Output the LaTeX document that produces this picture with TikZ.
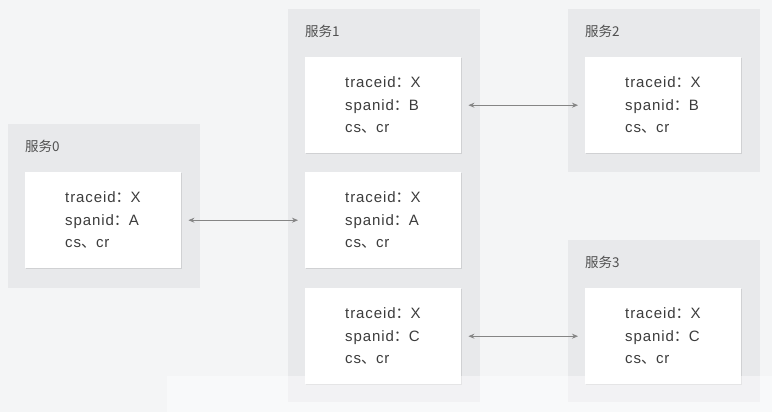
\documentclass[tikz,border=0pt]{standalone}
\usepackage{fontspec}
\setmainfont{Liberation Sans}[LetterSpace=6]
\newfontfamily\cjk{Noto Sans CJK SC}
\usetikzlibrary{arrows.meta,shadows}
\definecolor{bgc}{HTML}{F4F5F6}
\definecolor{panelc}{HTML}{E8E9EB}
\definecolor{txtc}{HTML}{3C3C3C}
\definecolor{lblc}{HTML}{505050}
\definecolor{arrc}{HTML}{858585}
\newcommand{\fc}{{\cjk ：}}
\newcommand{\dn}{{\cjk 、}}
\tikzset{
  panel/.style={fill=panelc, draw=none, inner sep=0pt, anchor=north west},
  card/.style={fill=white, draw=none, anchor=north west, minimum width=156pt, minimum height=96pt,
    text width=76pt, inner xsep=40pt, inner ysep=0pt, align=left, text=txtc,
    font=\fontsize{15pt}{22.5pt}\selectfont,
    drop shadow={shadow xshift=1pt, shadow yshift=-1.2pt, opacity=0.25, fill=black!45}},
  plabel/.style={anchor=west, inner sep=0pt, text=lblc, font=\cjk\fontsize{13.5pt}{16pt}\selectfont},
  link/.style={draw=arrc, line width=0.9pt, {Stealth[length=6pt,width=5pt]}-{Stealth[length=6pt,width=5pt]}, shorten <=7pt, shorten >=7pt}
}
\begin{document}
\begin{tikzpicture}[x=1pt,y=-1pt]
\fill[bgc] (0,0) rectangle (772,412);
\useasboundingbox (0,0) rectangle (772,412);
% panels
\node[panel, minimum width=192pt, minimum height=164pt] (p0) at (8,124) {};
\node[panel, minimum width=192pt, minimum height=393pt] (p1) at (288,9) {};
\node[panel, minimum width=192pt, minimum height=163pt] (p2) at (568,9) {};
\node[panel, minimum width=192pt, minimum height=162pt] (p3) at (568,240) {};
% labels
\node[plabel] (l0) at (25,146) {服务0};
\node[plabel] (l1) at (305,31) {服务1};
\node[plabel] (l2) at (585,31) {服务2};
\node[plabel] (l3) at (585,262) {服务3};
% cards
\node[card] (a) at (25,172) {traceid\fc X\\spanid\fc A\\cs\dn cr};
\node[card] (b1) at (305,57) {traceid\fc X\\spanid\fc B\\cs\dn cr};
\node[card] (b2) at (305,172) {traceid\fc X\\spanid\fc A\\cs\dn cr};
\node[card] (b3) at (305,288) {traceid\fc X\\spanid\fc C\\cs\dn cr};
\node[card] (c) at (585,57) {traceid\fc X\\spanid\fc B\\cs\dn cr};
\node[card] (d) at (585,288) {traceid\fc X\\spanid\fc C\\cs\dn cr};
% links
\draw[link] (a.east) -- (b2.west);
\draw[link] (b1.east) -- (c.west);
\draw[link] (b3.east) -- (d.west);
% faint overlay band
\fill[white, opacity=0.45] (167,376) rectangle (772,412);
\end{tikzpicture}
\end{document}
